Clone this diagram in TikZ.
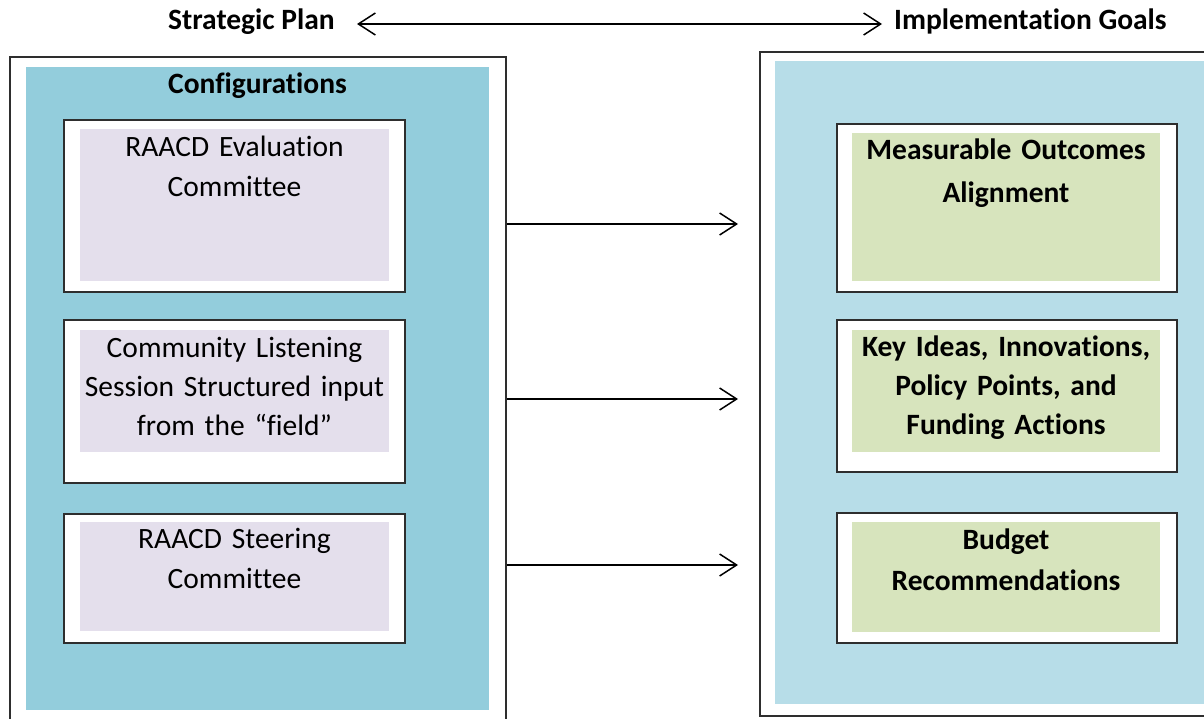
\documentclass[tikz,border=0pt]{standalone}
\usepackage{fontspec}
\setmainfont{Carlito}[Ligatures=NoCommon]
\usetikzlibrary{arrows.meta}
\definecolor{tealfill}{HTML}{93CDDC}
\definecolor{bluefill}{HTML}{B7DDE8}
\definecolor{purplefill}{HTML}{E4DFEC}
\definecolor{greenfill}{HTML}{D7E4BD}
\definecolor{edge}{HTML}{2E2E2E}
\tikzset{
  outerbox/.style={draw=edge, line width=2pt, fill=white, minimum width=#1, inner sep=0pt},
  areafill/.style={fill=#1, draw=none, inner sep=0pt},
  innerbox/.style={draw=edge, line width=2.2pt, fill=white, inner sep=0pt},
  itemfill/.style={fill=#1, draw=none, inner sep=0pt},
  itemtext/.style={anchor=base, inner sep=0pt, text width=330pt, align=center,
    font=\fontsize{29.5}{40}\selectfont},
  boldtext/.style={itemtext, font=\fontsize{29.5}{41}\selectfont\bfseries},
  headtext/.style={inner sep=0pt, font=\fontsize{29.5}{34}\selectfont\bfseries},
  conn/.style={line width=1.5pt, -{Straight Barb[length=17pt,width=22pt]}},
  biconn/.style={line width=1.5pt, {Straight Barb[length=17pt,width=22pt]}-{Straight Barb[length=17pt,width=22pt]}}
}
\begin{document}
\begin{tikzpicture}[x=1pt,y=-1pt]
\useasboundingbox (0,0) rectangle (1204,719);
\clip (0,0) rectangle (1204,719);
% headers
\node[headtext, anchor=base west] (SP) at (168,30) {Strategic Plan};
\node[headtext, anchor=base west] (IG) at (894,30) {Implementation Goals};
\draw[biconn] ([xshift=22pt]SP.east |- 0,24) -- ([xshift=-12pt]IG.west |- 0,24);
% left column
\node[outerbox=496pt, minimum height=678pt] (LO) at (258,396) {};
\node[areafill=tealfill, minimum width=463pt, minimum height=643pt] (LF) at (257.5,388.5) {};
\node[headtext, anchor=base] (CF) at (257.5,94) {Configurations};
% left items
\node[innerbox, minimum width=341pt, minimum height=172pt] (L1) at (234.5,206) {};
\node[itemfill=purplefill, minimum width=309pt, minimum height=152pt] (L1f) at (234.5,205) {};
\node[itemtext] (L1t) at ([yshift=-28pt]L1f.north) {RAACD Evaluation\\Committee};
\node[innerbox, minimum width=341pt, minimum height=163pt] (L2) at (234.5,401.5) {};
\node[itemfill=purplefill, minimum width=309pt, minimum height=122pt] (L2f) at (234.5,391) {};
\node[itemtext, font=\fontsize{29.5}{39}\selectfont] (L2t) at ([yshift=-28pt]L2f.north) {Community Listening\\Session Structured input\\from the “field”};
\node[innerbox, minimum width=341pt, minimum height=129pt] (L3) at (234.5,578.5) {};
\node[itemfill=purplefill, minimum width=309pt, minimum height=109pt] (L3f) at (234.5,576.5) {};
\node[itemtext] (L3t) at ([yshift=-27pt]L3f.north) {RAACD Steering\\Committee};
% right column
\node[outerbox=460pt, minimum height=664pt] (RO) at (990,384) {};
\node[areafill=bluefill, minimum width=445pt, minimum height=643pt] (RF) at (997.5,382.5) {};
\node[innerbox, minimum width=340pt, minimum height=168pt] (R1) at (1007,208) {};
\node[itemfill=greenfill, minimum width=308pt, minimum height=148pt] (R1f) at (1006,207) {};
\node[boldtext, font=\fontsize{29.5}{43}\selectfont\bfseries] (R1t) at ([yshift=-27pt]R1f.north) {Measurable Outcomes\\Alignment};
\node[innerbox, minimum width=340pt, minimum height=152pt] (R2) at (1007,396) {};
\node[itemfill=greenfill, minimum width=308pt, minimum height=122pt] (R2f) at (1006,391) {};
\node[boldtext, font=\fontsize{29.5}{39}\selectfont\bfseries] (R2t) at ([yshift=-27pt]R2f.north) {Key Ideas, Innovations,\\Policy Points, and\\Funding Actions};
\node[innerbox, minimum width=340pt, minimum height=130pt] (R3) at (1007,578) {};
\node[itemfill=greenfill, minimum width=308pt, minimum height=110pt] (R3f) at (1006,577) {};
\node[boldtext] (R3t) at ([yshift=-28pt]R3f.north) {Budget\\Recommendations};
% connectors
\coordinate (E1) at (738,224);
\coordinate (E2) at (738,399);
\coordinate (E3) at (738,565);
\draw[conn] (LO.east |- E1) -- (E1);
\draw[conn] (LO.east |- E2) -- (E2);
\draw[conn] (LO.east |- E3) -- (E3);
\end{tikzpicture}
\end{document}
